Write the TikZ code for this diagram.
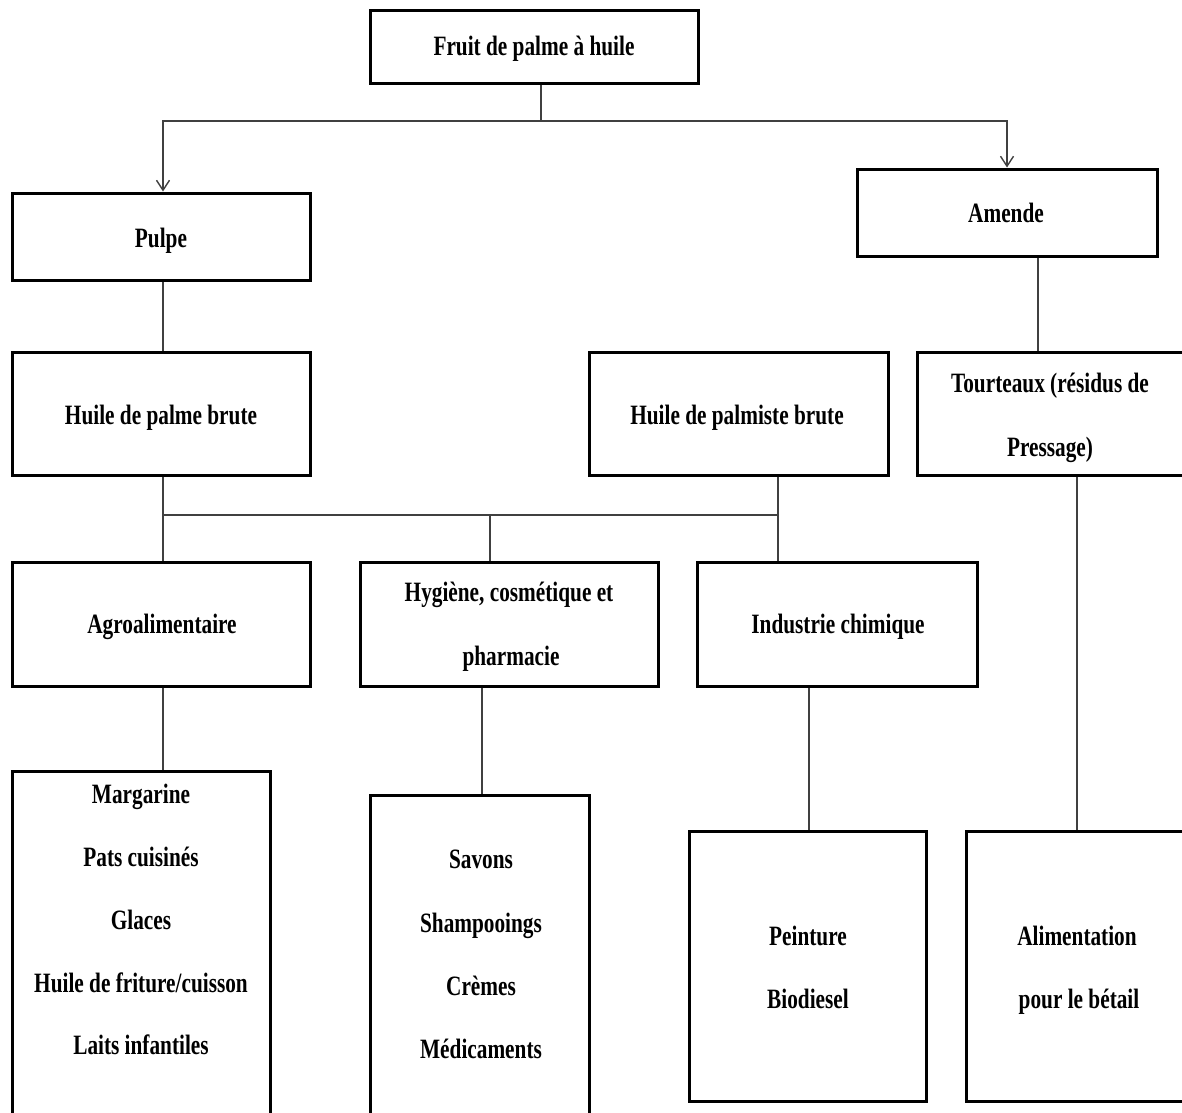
\documentclass[tikz,border=0pt]{standalone}
\usepackage{fontspec}
\setmainfont{Liberation Serif}[FakeStretch=0.76]
\usetikzlibrary{arrows.meta}
\begin{document}
\begin{tikzpicture}[x=1pt,y=-1pt,
  box/.style={draw=black,line width=3pt,inner sep=0pt,minimum width=#1},
  conn/.style={draw=black!75,line width=1.4pt},
  arr/.style={conn,-{Straight Barb[length=10pt,width=13pt,line width=1.4pt]}},
  lbl/.style={anchor=base,inner sep=0pt,font=\fontsize{28}{34}\selectfont\bfseries}]
\useasboundingbox (0,0) rectangle (1182,1112);
\clip (0,0) rectangle (1182,1112);
% boxes
\node[box=328pt,minimum height=73pt] (fruit) at (534,46.5) {};
\node[box=298pt,minimum height=87pt] (pulpe) at (161,236.5) {};
\node[box=300pt,minimum height=87pt] (amende) at (1007,212.5) {};
\node[box=298pt,minimum height=123pt] (hpb) at (161,413.5) {};
\node[box=299pt,minimum height=123pt] (hpal) at (738.5,413.5) {};
\node[box=267pt,minimum height=123pt] (tour) at (1050.5,413.5) {};
\node[box=298pt,minimum height=124pt] (agro) at (161,624) {};
\node[box=298pt,minimum height=124pt] (hyg) at (509,624) {};
\node[box=280pt,minimum height=124pt] (ind) at (837,624) {};
\node[box=258pt,minimum height=359pt] (marg) at (141,950.5) {};
\node[box=219pt,minimum height=335pt] (sav) at (479.5,962.5) {};
\node[box=237pt,minimum height=270pt] (pein) at (807.5,966) {};
\node[box=224pt,minimum height=270pt] (alim) at (1078,966) {};
% labels
\node[lbl] (tfruit) at (534,55) {Fruit de palme à huile};
\node[lbl] (tpulpe) at (161,247) {Pulpe};
\node[lbl] (tamende) at (1006,222) {Amende};
\node[lbl] (thpb) at (161,424) {Huile de palme brute};
\node[lbl] (thpal) at (737,424) {Huile de palmiste brute};
\node[lbl] (ttour1) at (1050,392) {Tourteaux (résidus de};
\node[lbl] (ttour2) at (1050,456) {Pressage)};
\node[lbl] (tagro) at (162,633) {Agroalimentaire};
\node[lbl] (thyg1) at (509,601) {Hygiène, cosmétique et};
\node[lbl] (thyg2) at (511,665) {pharmacie};
\node[lbl] (tind) at (838,633) {Industrie chimique};
\node[lbl] (tm1) at (141,803) {Margarine};
\node[lbl] (tm2) at (141,866) {Pats cuisinés};
\node[lbl] (tm3) at (141,929) {Glaces};
\node[lbl] (tm4) at (141,992) {Huile de friture/cuisson};
\node[lbl] (tm5) at (141,1054) {Laits infantiles};
\node[lbl] (ts1) at (481,868) {Savons};
\node[lbl] (ts2) at (481,932) {Shampooings};
\node[lbl] (ts3) at (481,995) {Crèmes};
\node[lbl] (ts4) at (481,1058) {Médicaments};
\node[lbl] (tp1) at (808,945) {Peinture};
\node[lbl] (tp2) at (808,1008) {Biodiesel};
\node[lbl] (ta1) at (1077,945) {Alimentation};
\node[lbl] (ta2) at (1079,1008) {pour le bétail};
% helper coordinates
\coordinate (j1) at (541,121);
\coordinate (j2) at (1038,0);
\coordinate (bus) at (778,515);
\coordinate (xhyg) at (490,0);
\coordinate (xhyg2) at (482,0);
\coordinate (xind) at (809,0);
\coordinate (xtour) at (1077,0);
\coordinate (xl) at (163,0);
% connectors
\draw[conn] (fruit.south -| j1) -- (j1);
\draw[arr] (j1) -| (pulpe.north -| xl);
\draw[arr] (j1) -| (amende.north);
\draw[conn] (pulpe.south -| xl) -- (hpb.north -| xl);
\draw[conn] (amende.south -| j2) -- (tour.north -| j2);
\draw[conn] (hpb.south -| xl) |- (bus);
\draw[conn] (hpal.south -| bus) -- (ind.north -| bus);
\draw[conn] (agro.north -| xl) -- (bus -| xl);
\draw[conn] (hyg.north -| xhyg) -- (bus -| xhyg);
\draw[conn] (agro.south -| xl) -- (marg.north -| xl);
\draw[conn] (hyg.south -| xhyg2) -- (sav.north -| xhyg2);
\draw[conn] (ind.south -| xind) -- (pein.north -| xind);
\draw[conn] (tour.south -| xtour) -- (alim.north -| xtour);
\end{tikzpicture}
\end{document}
